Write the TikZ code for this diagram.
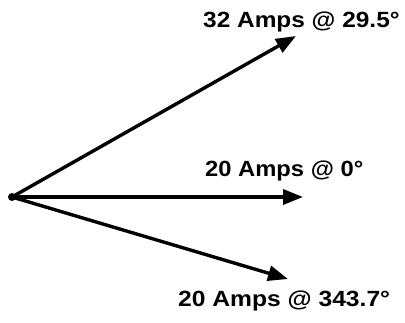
\documentclass[tikz,border=0pt]{standalone}
\usepackage{fontspec}
\setmainfont{Liberation Sans}
\usetikzlibrary{arrows.meta}
\begin{document}
\begin{tikzpicture}[x=1pt,y=1pt,
  vec/.style={line width=3.4pt,-{Triangle[length=20pt,width=15pt]}},
  lbl/.style={anchor=base west,inner sep=0pt,font=\fontsize{22}{25}\selectfont\bfseries}]
\useasboundingbox (0,0) rectangle (405,-323);
\coordinate (O) at (12,-197);
\coordinate (A) at (296,-36);
\coordinate (B) at (303,-197);
\coordinate (C) at (288,-279);
\fill (O) circle (4pt);
\draw[vec] (O) -- (A);
\draw[vec] (O) -- (B);
\draw[vec] (O) -- (C);
\node[lbl] (la) at (203,-28) {\scalebox{1.11}[1]{32 Amps @ 29.5°}};
\node[lbl] (lb) at (205,-177) {\scalebox{1.08}[1]{20 Amps @ 0°}};
\node[lbl] (lc) at (178,-307) {\scalebox{1.12}[1]{20 Amps @ 343.7°}};
\end{tikzpicture}
\end{document}
